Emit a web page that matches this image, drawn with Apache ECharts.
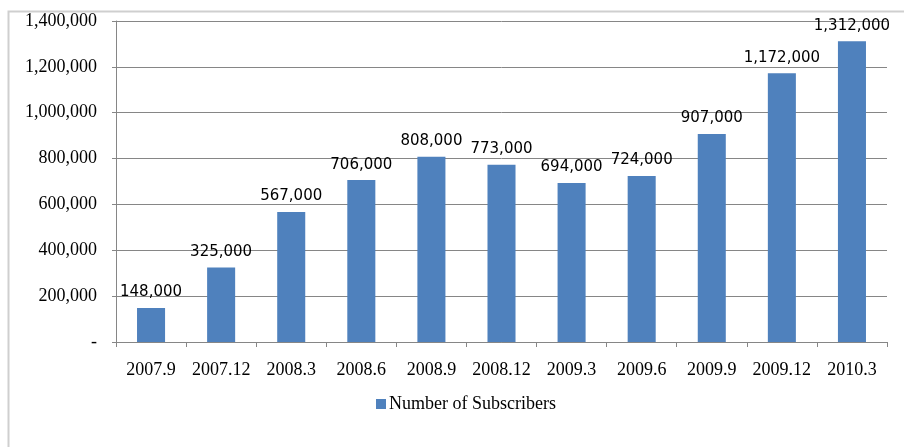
<!DOCTYPE html>
<html>
<head>
<meta charset="utf-8">
<script src="https://cdn.jsdelivr.net/npm/echarts@6/dist/echarts.min.js"></script>
<style>
html,body{margin:0;padding:0;background:#fff;}
#chart{width:904px;height:447px;}
</style>
</head>
<body>
<div id="chart"></div>
<script>
const categories = ['2007.9','2007.12','2008.3','2008.6','2008.9','2008.12','2009.3','2009.6','2009.9','2009.12','2010.3'];
const subscribers = [148000,325000,567000,706000,808000,773000,694000,724000,907000,1172000,1312000];
const seriesName = 'Number of Subscribers';

function fmt(v){
  if (v === 0) return '-';
  return String(v).replace(/\B(?=(\d{3})+(?!\d))/g, ',');
}

const chart = echarts.init(document.getElementById('chart'), null, {renderer:'canvas'});
chart.setOption({
  animation:false,
  backgroundColor:'#fff',
  graphic:[{
    type:'rect',
    shape:{x:8.5,y:11.5,width:930,height:460},
    style:{fill:'none',stroke:'#cfcfcf',lineWidth:2},
    silent:true,
    z:-1
  }],
  grid:{left:116,right:17,top:21,bottom:105,containLabel:false},
  legend:{
    data:[seriesName],
    left:371,
    top:390,
    itemWidth:10,
    itemHeight:10,
    itemGap:4,
    icon:'rect',
    textStyle:{fontFamily:'Liberation Serif',fontSize:18,color:'#000',padding:[0,0,0,-2]}
  },
  xAxis:{
    type:'category',
    data:categories,
    axisLine:{lineStyle:{color:'#868686',width:1}},
    axisTick:{show:true,length:5,lineStyle:{color:'#868686'}},
    axisLabel:{fontFamily:'Liberation Serif',fontSize:18,color:'#000',margin:19,interval:0},
    splitLine:{show:false}
  },
  yAxis:{
    type:'value',
    min:0,max:1400000,interval:200000,
    axisLine:{show:true,lineStyle:{color:'#868686',width:1}},
    axisTick:{show:true,length:4,lineStyle:{color:'#868686'}},
    axisLabel:{fontFamily:'Liberation Serif',fontSize:18,color:'#000',margin:19,formatter:fmt},
    splitLine:{show:true,lineStyle:{color:'#868686',width:1}}
  },
  series:[{
    name:seriesName,
    type:'bar',
    data:subscribers,
    barWidth:'40%',
    itemStyle:{color:'#4F81BD'},
    label:{
      show:true,
      position:'top',
      distance:8,
      fontFamily:'DejaVu Sans',
      fontSize:15,
      color:'#000',
      formatter:function(p){return fmt(p.value);}
    }
  }]
});
</script>
</body>
</html>
